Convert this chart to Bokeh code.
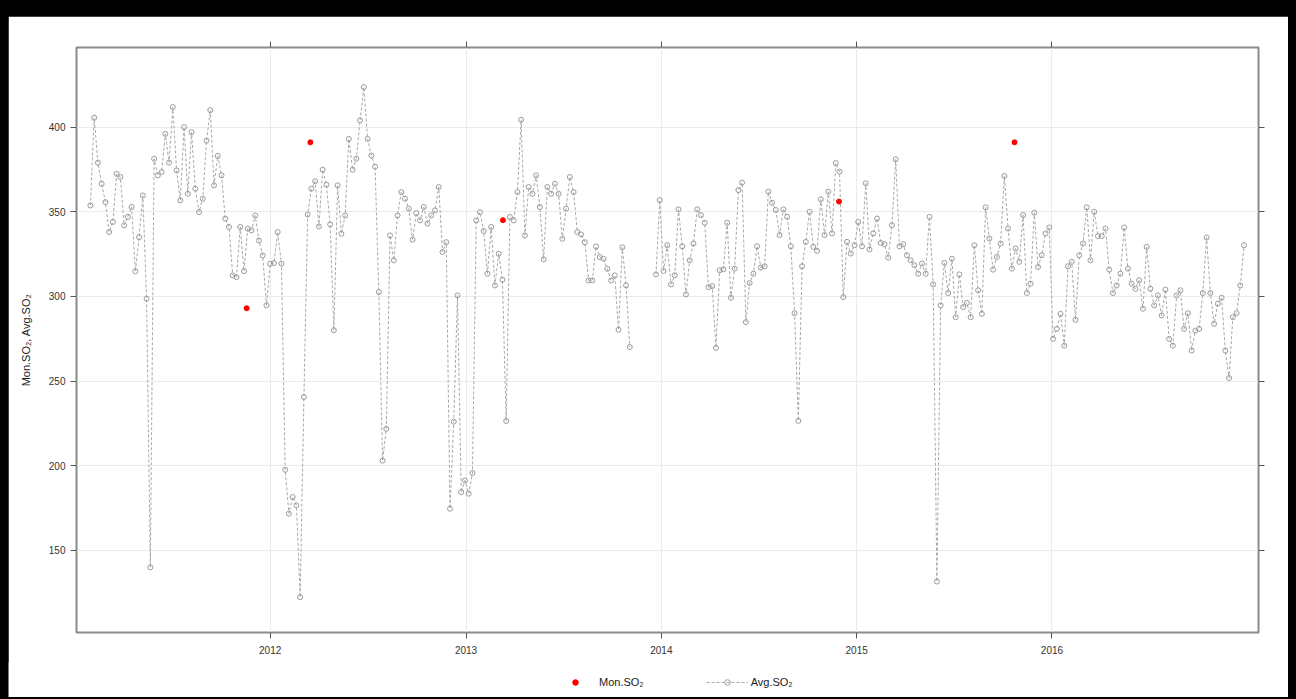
import numpy as np
import pandas as pd
from bokeh.plotting import figure
from bokeh.layouts import column
from bokeh.models import (LinearAxis, FixedTicker, DatetimeTickFormatter,
                          Range1d, Legend, LegendItem, CustomJSTickFormatter)
from bokeh.embed import file_html
from bokeh.resources import INLINE

# ---------------- data ----------------
seg1_start = "2011-01-30"   # weekly series, first block
seg2_start = "2013-12-22"   # weekly series, second block (after the gap)

avg_so2_seg1 = [
    353.7, 405.5, 379, 366.5, 355.7, 338, 344, 372.4, 370.5, 342,
    347, 352.8, 314.8, 335, 359.6, 298.6, 140, 381.3, 371.5, 373.4,
    396, 379, 411.8, 374.4, 356.7, 400, 360.6, 397, 363.6, 349.8,
    357.7, 392, 410, 365.6, 383, 371.5, 345.9, 341, 312.4, 311.4,
    341, 315, 340, 339, 347.8, 333, 324.2, 294.7, 319.3, 319.7,
    338, 319.3, 197.6, 171.7, 181.5, 176.6, 122.4, 240.6, 348.4, 363.6,
    368, 341.3, 374.8, 366, 342.5, 280, 365.6, 337, 347.8, 393,
    374.8, 381.3, 404, 423.6, 393, 383.2, 376.6, 302.6, 203, 221.8,
    336, 321.3, 347.8, 361.6, 357.7, 351.8, 333.5, 349.2, 344.9, 352.8,
    343, 347.8, 350.8, 364.6, 326.2, 332, 174.6, 226, 300.6, 184.4,
    191.3, 183.5, 195.7, 344.9, 349.8, 338.6, 313.4, 341, 306.5, 325.2,
    309.8, 226.4, 346.9, 344.9, 361.6, 404.3, 336, 364.6, 360.6, 371.5,
    352.8, 321.9, 364.6, 360.6, 366.5, 360.6, 334, 351.8, 370.5, 361.6,
    338, 336.6, 332, 309.4, 309.4, 329.5, 323.2, 322.2, 316.3, 309.4,
    312.4, 280.3, 329, 306.5, 270.1,
]

avg_so2_seg2 = [
    313, 356.9, 315, 330.2, 307.1, 312.5, 351.4, 329.6, 301.2, 321.3,
    331.2, 351.4, 348, 343.5, 305.5, 306.1, 269.6, 315.4, 316, 343.5,
    299.2, 316.4, 362.8, 367.2, 284.8, 307.9, 313.4, 329.6, 317, 317.8,
    361.9, 355.3, 351, 336.2, 351.4, 347, 329.6, 290.1, 226.5, 317.8,
    332.2, 350, 329.2, 326.9, 357.3, 336.2, 361.9, 337.2, 378.7, 373.7,
    299.6, 332.2, 325.3, 330.2,
    344, 329.6, 366.8, 327.7, 337.2, 346, 331.6, 330.8, 322.9, 342.1,
    381, 329.6, 330.8, 324.3, 321.3, 318.4, 313.4, 319.4, 313.4, 347,
    307.1, 131.6, 294.7, 319.8, 302, 322.3, 287.7, 313, 293.7, 296.2,
    287.7, 330.2, 303.6, 289.7, 352.6, 334.2, 315.8, 323.3, 331.2, 371.1,
    340.1, 316.4, 328.3, 320.4, 348, 302, 307.5, 349.4, 317.4, 324.3,
    337.2, 340.7, 274.9,
    280.8, 289.7, 270.9, 317.8, 320.4, 286.2, 324.3, 331.2, 352.6, 321.3,
    350, 335.6, 335.6, 340.1, 315.8, 302, 306.5, 313.4, 340.7, 316.4,
    307.5, 304.5, 309.5, 292.7, 329.2, 304.5, 294.7, 300.6, 288.7, 304,
    274.9, 270.9, 300.6, 303.6, 280.8, 290.1, 268, 279.8, 280.8, 302,
    334.8, 302, 283.8, 295.7, 299.2, 268, 251.8, 287.7, 290.1, 306.5,
    330.2,
]

mon_dates = ["2011-11-18", "2012-03-16", "2013-03-11", "2014-11-29", "2015-10-23"]
mon_so2 = [293, 391, 345, 356, 391]

year_ticks = [2012, 2013, 2014, 2015, 2016]
y_ticks = [150, 200, 250, 300, 350, 400]

# ---------------- build series ----------------
d1 = pd.date_range(seg1_start, periods=len(avg_so2_seg1), freq="7D")
d2 = pd.date_range(seg2_start, periods=len(avg_so2_seg2), freq="7D")
gap = d1[-1] + (d2[0] - d1[-1]) / 2
avg_x = list(d1) + [gap] + list(d2)
avg_y = avg_so2_seg1 + [np.nan] + avg_so2_seg2
mon_x = pd.to_datetime(mon_dates)

FONT = "Liberation Sans"
GRID = "#ebebeb"
FRAME = "#8a8a8a"
TICKC = "#555555"
LINEC = "#a8a8a8"
PTC = "#9a9a9a"
RED = "#ff0000"

p = figure(width=1280, height=647, x_axis_type="datetime",
           output_backend="svg", toolbar_location=None,
           x_range=Range1d(pd.Timestamp("2011-01-04"), pd.Timestamp("2017-01-21")),
           y_range=Range1d(101.5, 447),
           min_border_left=68, min_border_right=30,
           min_border_top=31, min_border_bottom=31,
           margin=(16, 8, 0, 8), frame_align=False)

p.background_fill_color = "white"
p.border_fill_color = "white"
p.outline_line_color = FRAME
p.outline_line_width = 2

yr_ms = [pd.Timestamp(f"{y}-01-01").value // 10**6 for y in year_ticks]
xt = FixedTicker(ticks=yr_ms)
yt = FixedTicker(ticks=y_ticks)
fmt = DatetimeTickFormatter(years="%Y", months="%Y", days="%Y", hours="%Y",
                            minutes="%Y", seconds="%Y", milliseconds="%Y",
                            microseconds="%Y", hourmin="%Y", minsec="%Y")
blank = CustomJSTickFormatter(code="return ''")


def style_axis(ax):
    ax.axis_line_color = None
    ax.major_tick_line_color = TICKC
    ax.major_tick_out = 6
    ax.major_tick_in = 0
    ax.minor_tick_line_color = None
    ax.major_label_text_font = FONT
    ax.major_label_text_color = "#333333"
    ax.major_label_text_font_size = "10px"


xa = p.xaxis[0]
xa.ticker = xt
xa.formatter = fmt
xa.major_label_standoff = 7
style_axis(xa)

ya = p.yaxis[0]
ya.ticker = yt
ya.major_label_standoff = 5
ya.axis_label = "Mon.SO\u2082, Avg.SO\u2082"
ya.axis_label_text_font = FONT
ya.axis_label_text_font_size = "11px"
ya.axis_label_text_font_style = "normal"
ya.axis_label_text_color = "#222222"
ya.axis_label_standoff = 14
style_axis(ya)

top = LinearAxis(ticker=xt, formatter=blank)
style_axis(top)
p.add_layout(top, "above")
right = LinearAxis(ticker=yt, formatter=blank)
style_axis(right)
p.add_layout(right, "right")

p.xgrid.ticker = xt
p.ygrid.ticker = yt
p.xgrid.grid_line_color = GRID
p.ygrid.grid_line_color = GRID

p.line(avg_x, avg_y, line_color=LINEC, line_width=1, line_dash="3 2")
p.scatter(avg_x, avg_y, marker="circle", size=5, line_color=PTC,
          fill_color=None, line_width=1)
p.scatter(mon_x, mon_so2, marker="circle", size=5, line_color=RED, fill_color=RED)

# ---------------- legend strip below the plot ----------------
lg = figure(width=1280, height=35, output_backend="svg", toolbar_location=None,
            x_range=Range1d(0, 1), y_range=Range1d(0, 1),
            min_border=0, margin=(-1, 8, 2, 8), frame_align=False)
lg.xaxis.visible = False
lg.yaxis.visible = False
lg.xgrid.visible = False
lg.ygrid.visible = False
lg.outline_line_color = None
lg.border_fill_color = "white"
lg.background_fill_color = "white"
# legend swatches only: the points sit outside the strip's visible range
lr_mon = lg.scatter([-5], [-5], marker="circle", size=5, line_color=RED, fill_color=RED)
lr_line = lg.line([-6, -5], [-5, -5], line_color=LINEC, line_width=1, line_dash="3 2")
lr_pts = lg.scatter([-5], [-5], marker="circle", size=5, line_color=PTC,
                    fill_color=None, line_width=1)

legend = Legend(items=[LegendItem(label="Mon.SO\u2082", renderers=[lr_mon]),
                       LegendItem(label="Avg.SO\u2082", renderers=[lr_line, lr_pts])],
                orientation="horizontal", location=(546, 8),
                border_line_color=None, background_fill_alpha=0,
                label_text_font=FONT, label_text_font_size="11px",
                label_text_color="#222222",
                glyph_width=42, glyph_height=14, spacing=62,
                padding=4, margin=0, label_standoff=3)
lg.add_layout(legend)

layout = column(p, lg, spacing=0, styles={"background-color": "black"})

open("out.html", "w").write(file_html(layout, INLINE))
